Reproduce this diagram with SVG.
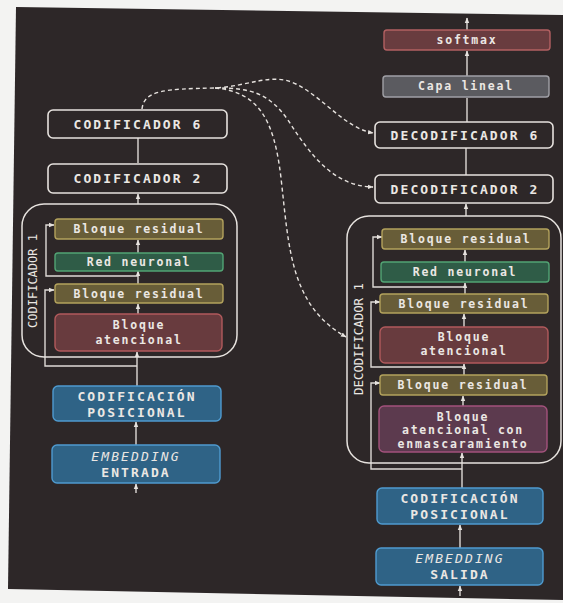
<svg xmlns="http://www.w3.org/2000/svg" width="563" height="603" viewBox="0 0 563 603">
  <defs>
    <marker id="arr" viewBox="0 0 10 10" refX="9" refY="5" markerWidth="4" markerHeight="4" orient="auto-start-reverse" markerUnits="strokeWidth">
      <path d="M0,1 L10,5 L0,9 Z" fill="#e6e2de"/>
    </marker>
    <style>
      .bg { fill: #2d2728; }
      .ln { fill: none; stroke: #dedad6; stroke-width: 1.4; }
      .dash { fill: none; stroke: #e6e2de; stroke-width: 1.4; stroke-dasharray: 4 3; }
      .frame { fill: none; stroke: #e6e2de; stroke-width: 1.5; }
      .blk { fill: #2d2728; stroke: #e6e2de; stroke-width: 1.6; }
      .res { fill: #685d38; stroke: #b3a25c; stroke-width: 1.4; }
      .nn { fill: #2f5c47; stroke: #52a474; stroke-width: 1.4; }
      .att { fill: #683b3e; stroke: #b15a5c; stroke-width: 1.4; }
      .mask { fill: #5c3a4e; stroke: #a3527c; stroke-width: 1.4; }
      .pos { fill: #2f6386; stroke: #4f9bd0; stroke-width: 1.4; }
      .soft { fill: #693c3f; stroke: #b36062; stroke-width: 1.4; }
      .lin { fill: #5b5b60; stroke: #a0a0a6; stroke-width: 1.4; }
      text { font-family: "DejaVu Sans Mono", "Liberation Mono", monospace; fill: #ebe7e3; text-anchor: middle; dominant-baseline: central; }
      .sm { font-size: 11.5px; font-weight: bold; letter-spacing: 1.8px; }
      .cap { font-size: 13px; font-weight: bold; letter-spacing: 2.1px; }
      .it { font-style: italic; font-weight: normal; }
      .vt { font-size: 13px; }
    </style>
  </defs>

  <!-- paper and dark print area -->
  <rect width="563" height="603" fill="#f3f3f2"/>
  <polygon class="bg" points="16,7 563,15 563,600 8,589"/>

  <!-- connectors -->
  <g id="connectors">
    <!-- encoder stack -->
    <line class="ln" x1="138" y1="138" x2="138" y2="163"/>
    <line class="ln" x1="138" y1="204" x2="138" y2="194" marker-end="url(#arr)"/>
    <line class="ln" x1="138" y1="253" x2="138" y2="240" marker-end="url(#arr)"/>
    <line class="ln" x1="138" y1="284" x2="138" y2="271" marker-end="url(#arr)"/>
    <line class="ln" x1="138" y1="314" x2="138" y2="304" marker-end="url(#arr)"/>
    <line class="ln" x1="137" y1="386" x2="137" y2="352" marker-end="url(#arr)"/>
    <line class="ln" x1="136" y1="445" x2="136" y2="422" marker-end="url(#arr)"/>
    <line class="ln" x1="136" y1="493" x2="136" y2="484" marker-end="url(#arr)"/>
    <path class="ln" d="M138,276 H46 V225 H54" marker-end="url(#arr)"/>
    <path class="ln" d="M137,366 H45 V290 H54" marker-end="url(#arr)"/>

    <!-- decoder stack -->
    <line class="ln" x1="467" y1="30" x2="467" y2="18" marker-end="url(#arr)"/>
    <line class="ln" x1="467" y1="76" x2="467" y2="51" marker-end="url(#arr)"/>
    <line class="ln" x1="467" y1="122" x2="467" y2="98"/>
    <line class="ln" x1="466" y1="148" x2="466" y2="175"/>
    <line class="ln" x1="466" y1="216" x2="466" y2="204" marker-end="url(#arr)"/>
    <line class="ln" x1="465" y1="262" x2="465" y2="250" marker-end="url(#arr)"/>
    <line class="ln" x1="465" y1="294" x2="465" y2="283" marker-end="url(#arr)"/>
    <line class="ln" x1="464" y1="327" x2="464" y2="314" marker-end="url(#arr)"/>
    <line class="ln" x1="464" y1="375" x2="464" y2="364" marker-end="url(#arr)"/>
    <line class="ln" x1="463" y1="406" x2="463" y2="396" marker-end="url(#arr)"/>
    <line class="ln" x1="462" y1="488" x2="462" y2="453" marker-end="url(#arr)"/>
    <line class="ln" x1="460" y1="548" x2="460" y2="525" marker-end="url(#arr)"/>
    <line class="ln" x1="460" y1="596" x2="460" y2="586" marker-end="url(#arr)"/>
    <path class="ln" d="M465,287 H373 V237 H382" marker-end="url(#arr)"/>
    <path class="ln" d="M464,367 H371 V302 H380" marker-end="url(#arr)"/>
    <path class="ln" d="M462,469 H371 V383 H380" marker-end="url(#arr)"/>

    <!-- encoder output to decoders -->
    <path class="dash" d="M142,109 C144,90 165,89 215,88 C250,86 272,72 296,84 C324,98 345,128 373,133" marker-end="url(#arr)"/>
    <path class="dash" d="M215,88 C250,88 268,92 288,120 C312,158 335,186 373,187" marker-end="url(#arr)"/>
    <path class="dash" d="M215,88 C258,92 274,118 281,178 C289,248 290,305 346,337" marker-end="url(#arr)"/>
  </g>

  <!-- encoder side -->
  <g id="codificador6"><rect class="blk" x="48" y="110" width="179" height="28" rx="5"/><text class="cap" x="138" y="124">CODIFICADOR 6</text></g>
  <g id="codificador2"><rect class="blk" x="48" y="164" width="179" height="29" rx="5"/><text class="cap" x="138" y="178">CODIFICADOR 2</text></g>
  <g id="codificador1">
    <rect class="frame" x="22" y="204" width="215" height="153" rx="22"/>
    <text class="vt" transform="translate(32,281) rotate(-90)" textLength="94" lengthAdjust="spacingAndGlyphs">CODIFICADOR 1</text>
  </g>
  <g id="enc-residual-2"><rect class="res" x="55" y="219" width="168" height="20" rx="3"/><text class="sm" x="139" y="229">Bloque residual</text></g>
  <g id="enc-red-neuronal"><rect class="nn" x="55" y="253" width="168" height="18" rx="3"/><text class="sm" x="139" y="262">Red neuronal</text></g>
  <g id="enc-residual-1"><rect class="res" x="55" y="284" width="168" height="19" rx="3"/><text class="sm" x="139" y="294">Bloque residual</text></g>
  <g id="enc-atencional"><rect class="att" x="55" y="314" width="167" height="37" rx="5"/><text class="sm" x="139" y="325">Bloque</text><text class="sm" x="139" y="340">atencional</text></g>
  <g id="enc-posicional"><rect class="pos" x="53" y="386" width="168" height="35" rx="5"/><text class="cap" x="137" y="396">CODIFICACIÓN</text><text class="cap" x="137" y="412">POSICIONAL</text></g>
  <g id="enc-embedding"><rect class="pos" x="52" y="445" width="168" height="38" rx="5"/><text class="cap it" x="136" y="456">EMBEDDING</text><text class="cap" x="136" y="472">ENTRADA</text></g>

  <!-- decoder side -->
  <g id="softmax"><rect class="soft" x="384" y="30" width="166" height="20" rx="3"/><text class="sm" x="467" y="40">softmax</text></g>
  <g id="capa-lineal"><rect class="lin" x="383" y="76" width="166" height="21" rx="3"/><text class="sm" x="466" y="86">Capa lineal</text></g>
  <g id="decodificador6"><rect class="blk" x="375" y="122" width="178" height="26" rx="5"/><text class="cap" x="465" y="135">DECODIFICADOR 6</text></g>
  <g id="decodificador2"><rect class="blk" x="375" y="175" width="178" height="28" rx="5"/><text class="cap" x="465" y="189">DECODIFICADOR 2</text></g>
  <g id="decodificador1">
    <rect class="frame" x="347" y="216" width="214" height="247" rx="22"/>
    <text class="vt" transform="translate(358,339) rotate(-90)" textLength="112" lengthAdjust="spacingAndGlyphs">DECODIFICADOR 1</text>
  </g>
  <g id="dec-residual-3"><rect class="res" x="382" y="229" width="167" height="20" rx="3"/><text class="sm" x="466" y="239">Bloque residual</text></g>
  <g id="dec-red-neuronal"><rect class="nn" x="381" y="262" width="168" height="20" rx="3"/><text class="sm" x="465" y="272">Red neuronal</text></g>
  <g id="dec-residual-2"><rect class="res" x="380" y="294" width="168" height="19" rx="3"/><text class="sm" x="464" y="304">Bloque residual</text></g>
  <g id="dec-atencional"><rect class="att" x="380" y="327" width="168" height="36" rx="5"/><text class="sm" x="464" y="337">Bloque</text><text class="sm" x="464" y="351">atencional</text></g>
  <g id="dec-residual-1"><rect class="res" x="380" y="375" width="167" height="20" rx="3"/><text class="sm" x="463" y="385">Bloque residual</text></g>
  <g id="dec-enmascaramiento"><rect class="mask" x="379" y="406" width="168" height="46" rx="5"/><text class="sm" x="463" y="417">Bloque</text><text class="sm" x="463" y="430">atencional con</text><text class="sm" x="463" y="444">enmascaramiento</text></g>
  <g id="dec-posicional"><rect class="pos" x="377" y="488" width="166" height="36" rx="5"/><text class="cap" x="460" y="498.5">CODIFICACIÓN</text><text class="cap" x="460" y="514.5">POSICIONAL</text></g>
  <g id="dec-embedding"><rect class="pos" x="376" y="548" width="167" height="37" rx="5"/><text class="cap it" x="460" y="558.5">EMBEDDING</text><text class="cap" x="460" y="574.5">SALIDA</text></g>
</svg>
